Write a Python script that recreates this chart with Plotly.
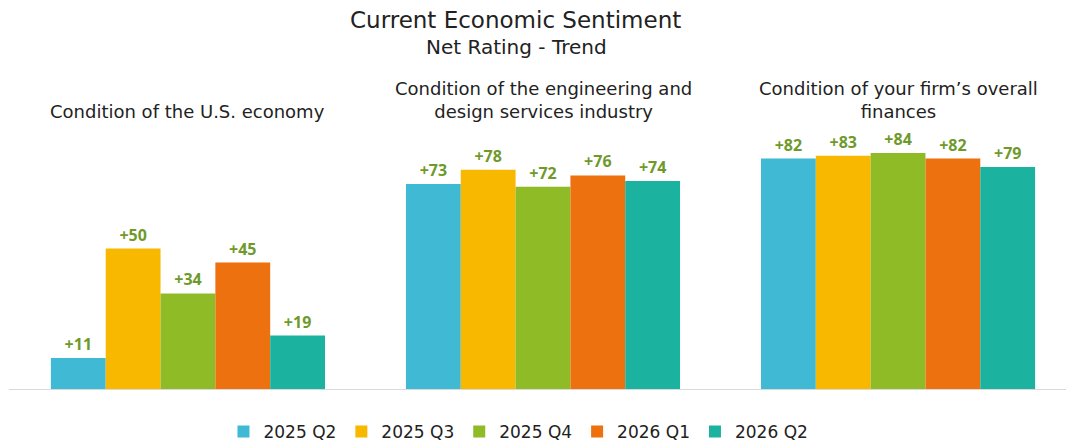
import plotly.graph_objects as go

# Survey topics (rendered as labels above each group of bars)
topics = [
    "Condition of the U.S. economy",
    "Condition of the engineering and<br>design services industry",
    "Condition of your firm\u2019s overall<br>finances",
]
periods = ["2025 Q2", "2025 Q3", "2025 Q4", "2026 Q1", "2026 Q2"]

# Net rating per period, one value per topic
net_2025_q2 = [11, 73, 82]
net_2025_q3 = [50, 78, 83]
net_2025_q4 = [34, 72, 84]
net_2026_q1 = [45, 76, 82]
net_2026_q2 = [19, 74, 79]

series = [net_2025_q2, net_2025_q3, net_2025_q4, net_2026_q1, net_2026_q2]
colors = ["#40b9d5", "#f8b800", "#8fbb27", "#ee7110", "#1bb39f"]

FONT = "DejaVu Sans"
LABEL_FONT = "Open Sans"
TEXT = "#222222"
x_pos = list(range(len(topics)))

W, H = 1067, 443
M_T, M_B = 60, 54
plot_h = H - M_T - M_B


def py_to_paper(py):
    """Convert a pixel row (from the top of the page) to paper y."""
    return (H - M_B - py) / plot_h


fig = go.Figure()
for name, vals, col in zip(periods, series, colors):
    fig.add_trace(go.Bar(
        x=x_pos,
        y=vals,
        name=name,
        marker=dict(color=col, line=dict(width=0)),
        text=[f"+{v}" for v in vals],
        textposition="outside",
        cliponaxis=False,
        textfont=dict(family=LABEL_FONT, size=16, color="#6f9a2b", weight="bold"),
    ))

fig.update_layout(
    width=W,
    height=H,
    margin=dict(l=9, r=1, t=M_T, b=M_B, autoexpand=False),
    paper_bgcolor="white",
    plot_bgcolor="white",
    barmode="group",
    bargap=0.228,
    bargroupgap=0,
    showlegend=True,
    legend=dict(
        orientation="h",
        x=0.482, xanchor="center",
        y=py_to_paper(432), yanchor="middle",
        font=dict(family=FONT, size=17, color=TEXT),
        itemwidth=30,
        tracegroupgap=0,
    ),
    xaxis=dict(
        range=[-0.504, 2.473],
        showticklabels=False,
        showgrid=False,
        zeroline=False,
        showline=True,
        linecolor="#d9d9d9",
        linewidth=1,
        ticks="",
    ),
    yaxis=dict(
        range=[0, 117.1],
        visible=False,
    ),
)

# Chart title and subtitle
fig.add_annotation(text="Current Economic Sentiment", x=0.479, xref="paper",
                   y=py_to_paper(20), yref="paper", yanchor="middle",
                   showarrow=False, font=dict(family=FONT, size=23, color=TEXT))
fig.add_annotation(text="Net Rating - Trend", x=0.48, xref="paper",
                   y=py_to_paper(47), yref="paper", yanchor="middle",
                   showarrow=False, font=dict(family=FONT, size=20, color=TEXT))

# Topic labels above each group
for i, t in enumerate(topics):
    fig.add_annotation(
        x=i, xref="x", y=py_to_paper(124), yref="paper",
        text=t, showarrow=False,
        font=dict(family=FONT, size=18, color=TEXT),
        yanchor="bottom",
    )

fig.write_html("out.html")
